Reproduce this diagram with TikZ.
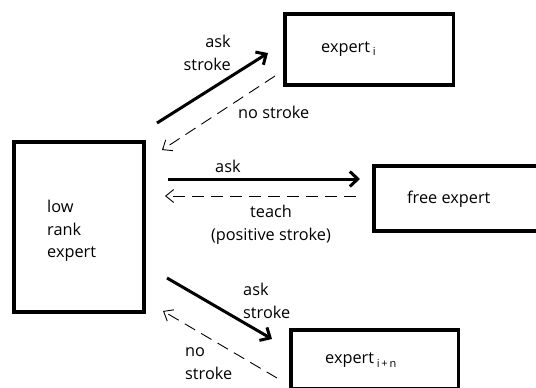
\documentclass[tikz,border=0pt]{standalone}
\usepackage{fontspec}
\setmainfont{Open Sans}
\usetikzlibrary{arrows.meta}
\begin{document}
\begin{tikzpicture}[x=1pt,y=-1pt,
  font=\fontsize{16.3}{22.5}\selectfont,
  box/.style={draw, line width=3.5pt, inner sep=0pt},
  lbl/.style={inner sep=0pt},
  strong/.style={line width=3pt, -{Straight Barb[length=8pt,width=15pt]}},
  weak/.style={line width=0.9pt, dash pattern=on 12pt off 7pt, -{Straight Barb[length=8pt,width=13pt]}}]
\useasboundingbox (0,0) rectangle (536,388);
\clip (0,0) rectangle (536,388);
% boxes
\node[box, minimum width=130pt, minimum height=170pt] (low) at (79,227) {};
\node[box, minimum width=168.5pt, minimum height=71pt] (ei) at (369,49.5) {};
\node[box, minimum width=186pt, minimum height=65pt] (free) at (467,198.5) {};
\node[box, minimum width=167.5pt, minimum height=58.5pt] (ein) at (374.75,359.25) {};
% box texts
\node[lbl, anchor=base west] (tei) at (321,52) {expert\,\raisebox{-4pt}{\fontsize{11}{11}\selectfont i}};
\node[lbl, anchor=base west] (tfree) at (407,203) {free expert};
\node[lbl, anchor=base west] (tein) at (325,363) {expert\,\raisebox{-4pt}{\fontsize{11}{11}\selectfont i\,+\,n}};
\node[lbl, anchor=west, align=left] (tlow) at (47,231) {low\\rank\\expert};
% connector end points
\coordinate (a1s) at (157,123); \coordinate (a1e) at (268,53);
\coordinate (d1s) at (275,76);  \coordinate (d1e) at (162,150);
\coordinate (a2s) at (168,179); \coordinate (a2e) at (360,179);
\coordinate (d2s) at (356,196); \coordinate (d2e) at (165,196);
\coordinate (a3s) at (167,278); \coordinate (a3e) at (272,339);
\coordinate (d3s) at (277,378); \coordinate (d3e) at (163,311);
% connectors
\draw[strong] (a1s) -- (a1e);
\draw[weak] (d1s) -- (d1e);
\draw[strong] (a2s) -- (a2e);
\draw[weak] (d2s) -- (d2e);
\draw[strong] (a3s) -- (a3e);
\draw[weak] (d3s) -- (d3e);
% labels (base = baseline of last line)
\node[lbl, anchor=base east, align=right] (l1) at (231,70) {ask\\stroke};
\node[lbl, anchor=base west] (l2) at (238,118) {no stroke};
\node[lbl, anchor=base west] (l3) at (215,172) {ask};
\node[lbl, anchor=base, align=center] (l4) at (271,240) {teach\\(positive stroke)};
\node[lbl, anchor=base west, align=left] (l5) at (243,318) {ask\\stroke};
\node[lbl, anchor=base west, align=left] (l6) at (185,379) {no\\stroke};
\end{tikzpicture}
\end{document}
